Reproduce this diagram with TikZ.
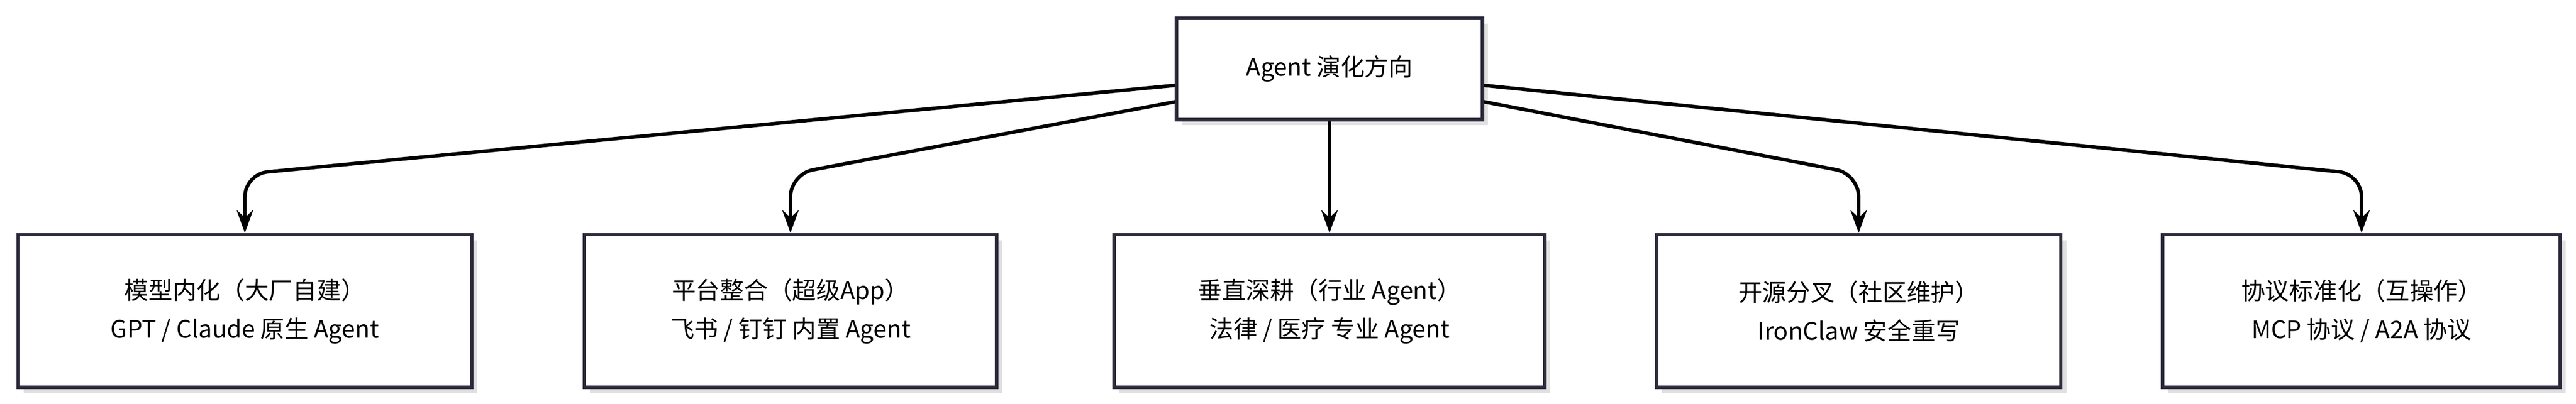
\documentclass[tikz,border=0pt]{standalone}
\usepackage{fontspec}
\setmainfont{Noto Sans CJK SC}
\usetikzlibrary{arrows.meta,positioning}
\definecolor{edge}{HTML}{2B2B3B}
\tikzset{
  box/.style={draw=edge, line width=2.2pt, fill=white, align=center,
    minimum height=3.35cm, font=\fontsize{15}{24}\selectfont,
    drop shadow={shadow xshift=0.12cm, shadow yshift=-0.12cm, fill=black!12, opacity=1}},
  flow/.style={line width=2.2pt, -{Stealth[length=0.5cm,width=0.36cm]}, rounded corners=0.5cm}
}
\usetikzlibrary{shadows}
\begin{document}
\begin{tikzpicture}[x=0.036cm,y=-0.036cm]
  \useasboundingbox (0,0) rectangle (1567.5,245.8);
  % root
  \node[box, minimum width=186*0.036cm, minimum height=62*0.036cm] (root) at (809,42) {Agent 演化方向};
  % directions
  \node[box, minimum width=276*0.036cm] (model) at (149,189.5) {模型内化（大厂自建）\\GPT / Claude 原生 Agent};
  \node[box, minimum width=251*0.036cm] (plat) at (481,189.5) {平台整合（超级App）\\飞书 / 钉钉 内置 Agent};
  \node[box, minimum width=262*0.036cm] (vert) at (809,189.5) {垂直深耕（行业 Agent）\\法律 / 医疗 专业 Agent};
  \node[box, minimum width=246*0.036cm] (open) at (1131,189.5) {开源分叉（社区维护）\\IronClaw 安全重写};
  \node[box, minimum width=242*0.036cm] (proto) at (1437,189.5) {协议标准化（互操作）\\MCP 协议 / A2A 协议};
  % bends
  \coordinate (b1) at (149,106);
  \coordinate (b2) at (481,106);
  \coordinate (b4) at (1131,106);
  \coordinate (b5) at (1437,106);
  \draw[flow] (root.west |- 0,52) -- (b1) -- (model.north);
  \draw[flow] (root.west |- 0,62) -- (b2) -- (plat.north);
  \draw[flow] (root) -- (vert);
  \draw[flow] (root.east |- 0,62) -- (b4) -- (open.north);
  \draw[flow] (root.east |- 0,52) -- (b5) -- (proto.north);
\end{tikzpicture}
\end{document}
